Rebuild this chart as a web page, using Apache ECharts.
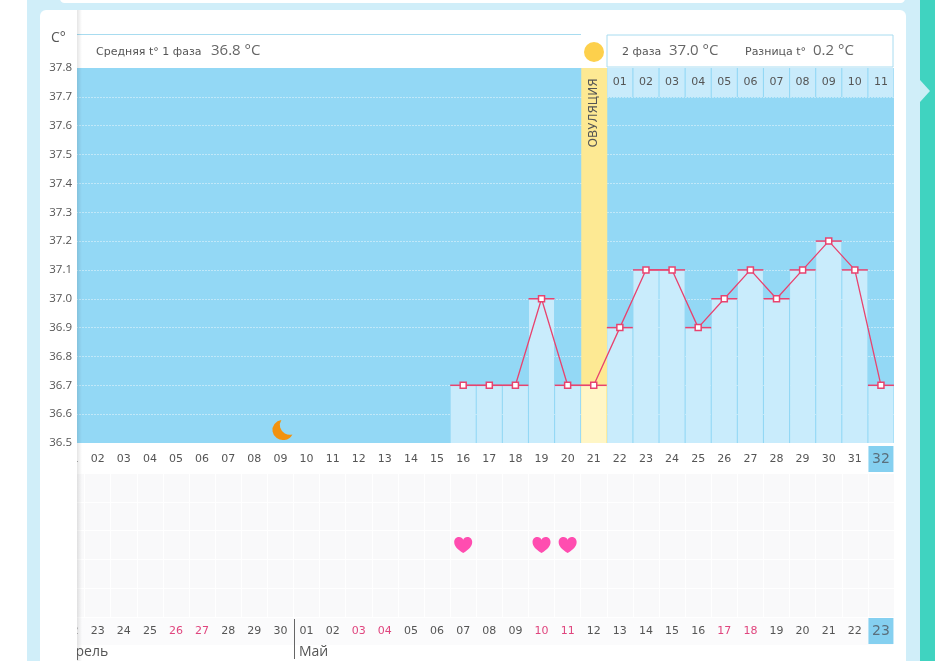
<!DOCTYPE html>
<html><head><meta charset="utf-8">
<style>html,body{margin:0;padding:0;background:#fff}#c{width:935px;height:661px}</style>
<script src="https://cdn.jsdelivr.net/npm/echarts@6/dist/echarts.min.js"></script>
</head><body><div id="c"></div>
<script>
const cycleDays = ['01','02','03','04','05','06','07','08','09','10','11','12','13','14','15','16','17','18','19','20','21','22','23','24','25','26','27','28','29','30','31','32'];
const dates = ['22','23','24','25','26','27','28','29','30','01','02','03','04','05','06','07','08','09','10','11','12','13','14','15','16','17','18','19','20','21','22','23'];
const weekendIdx = [4,5,11,12,18,19,25,26];
const temps = [null,null,null,null,null,null,null,null,null,null,null,null,null,null,null,36.7,36.7,36.7,37.0,36.7,36.7,36.9,37.1,37.1,36.9,37.0,37.1,37.0,37.1,37.2,37.1,36.7];
const ovulationDay = '21';
const moonPoints = [[8,36.545]];
const heartPoints = [[15,2.5],[18,2.5],[19,2.5]];
const phaseTwoDays = {'22':'01','23':'02','24':'03','25':'04','26':'05','27':'06','28':'07','29':'08','30':'09','31':'10','32':'11'};

const MOON='path://M9 0 A10.5 10.5 0 1 0 20 15 A10 10 0 0 1 9 0Z';
const HEART='path://M12 21 C4 16 0 12 0 6.5 C0 2.5 3 0 6.5 0 C9 0 11 1.5 12 3.5 C13 1.5 15 0 17.5 0 C21 0 24 2.5 24 6.5 C24 12 20 16 12 21Z';
const tickFont='"DejaVu Sans"', headFont='"Open Sans"';
const L=58.5,W=835.5;

function rect(x,y,w,h,fill,z,extra){return Object.assign({type:'rect',silent:true,z:z,shape:{x,y,width:w,height:h},style:{fill}},extra||{});}
function txt(x,y,t,size,color,z,extra){const f=(extra&&extra.font)||headFont;return {type:'text',silent:true,z:z,x,y,rotation:(extra&&extra.rotation)||0,style:{text:t,font:size+'px '+f,fill:color,verticalAlign:'middle',align:(extra&&extra.align)||'left'}};}
const hiRich={hi:{fontFamily:tickFont,fontSize:14,color:'#5a6f7c',backgroundColor:'#85d0f0',width:25,height:26,lineHeight:26,align:'center',verticalAlign:'middle'}};

const chart=echarts.init(document.getElementById('c'),null,{renderer:'canvas'});
chart.setOption({
 animation:false,
 backgroundColor:'#fff',
 grid:[
  {left:L,width:W,top:68,height:375,show:true,backgroundColor:'#93d8f5',borderWidth:0},
  {left:L,width:W,top:473,height:144,show:true,backgroundColor:'#f9f9fa',borderWidth:0},
  {left:L,width:W,top:68,height:29,show:false}
 ],
 xAxis:[
  {gridIndex:0,type:'category',data:cycleDays,axisLine:{show:false},axisTick:{show:false},splitLine:{show:false},
   axisLabel:{interval:0,margin:16,verticalAlign:'middle',fontFamily:tickFont,fontSize:11,color:'#555',
    formatter:(v,i)=>i===cycleDays.length-1?'{hi|'+v+'}':v,rich:hiRich}},
  {gridIndex:1,type:'category',data:dates,axisLine:{show:false},axisTick:{show:false},
   splitLine:{show:true,interval:0,lineStyle:{color:'#ffffff',width:1}},
   axisLabel:{interval:0,margin:14,verticalAlign:'middle',fontFamily:tickFont,fontSize:11,
    color:(v,i)=>weekendIdx.includes(i)?'#e0457e':'#555',
    formatter:(v,i)=>i===dates.length-1?'{hi|'+v+'}':v,rich:hiRich}},
  {gridIndex:2,type:'category',data:cycleDays,show:false}
 ],
 yAxis:[
  {gridIndex:0,type:'value',min:36.5,max:37.8,interval:0.1,axisLine:{show:false},axisTick:{show:false},axisLabel:{show:false},
   splitLine:{show:true,showMaxLine:false,lineStyle:{color:'rgba(255,255,255,0.85)',type:[1,2],width:1}}},
  {gridIndex:1,type:'value',min:0,max:5,interval:1,axisLine:{show:false},axisTick:{show:false},axisLabel:{show:false},
   splitLine:{show:true,lineStyle:{color:'#ffffff',width:1}}},
  {gridIndex:2,type:'value',min:0,max:1,show:false},
  {gridIndex:0,type:'value',position:'left',min:36.5,max:37.8,interval:0.1,z:200,axisLine:{show:false},axisTick:{show:false},splitLine:{show:false},
   axisLabel:{margin:-13.5,align:'right',verticalAlign:'middle',alignMinLabel:'right',alignMaxLabel:'right',fontFamily:headFont,fontSize:11.5,color:'#555',formatter:v=>v.toFixed(1)}}
 ],
 series:[
  {name:'band',type:'bar',xAxisIndex:0,yAxisIndex:0,barWidth:26,barGap:'-100%',z:2,silent:true,
   data:cycleDays.map(d=>d===ovulationDay?37.8:null),itemStyle:{color:'#fde993'}},
  {name:'temp-bars',type:'bar',xAxisIndex:0,yAxisIndex:0,barWidth:25,barGap:'-100%',z:3,silent:true,
   data:temps,itemStyle:{color:p=>cycleDays[p.dataIndex]===ovulationDay?'#fff6c6':'#c9ecfc'}},
  {name:'caps',type:'scatter',xAxisIndex:0,yAxisIndex:0,z:4,silent:true,symbol:'rect',symbolSize:[26,1.5],
   data:temps,itemStyle:{color:'#e8436f',opacity:1}},
  {name:'temp',type:'line',xAxisIndex:0,yAxisIndex:0,z:5,silent:true,data:temps,connectNulls:false,
   symbol:'rect',symbolSize:6,showSymbol:true,lineStyle:{color:'#e8436f',width:1.3},
   itemStyle:{color:'#fff',borderColor:'#e8436f',borderWidth:1.5}},
  {name:'moon',type:'scatter',xAxisIndex:0,yAxisIndex:0,z:5,silent:true,symbol:MOON,symbolSize:[20,20],
   symbolOffset:[2,0],data:moonPoints,itemStyle:{color:'#f2920f',opacity:1}},
  {name:'hearts',type:'scatter',xAxisIndex:1,yAxisIndex:1,z:5,silent:true,symbol:HEART,symbolSize:[18,16],
   data:heartPoints,itemStyle:{color:'#ff4db0',opacity:1}},
  {name:'phase2',type:'bar',xAxisIndex:2,yAxisIndex:2,barWidth:25,z:6,silent:true,
   data:cycleDays.map(d=>phaseTwoDays[d]?1:null),itemStyle:{color:'#c9ebfb'},
   label:{show:true,position:'inside',fontFamily:tickFont,fontSize:11,color:'#555',
    formatter:p=>phaseTwoDays[cycleDays[p.dataIndex]]}}
 ],
 graphic:{elements:[
  rect(27,0,893,661,'#d0eef9',-10),
  rect(40,10,866,670,'#ffffff',-9,{shape:{x:40,y:10,width:866,height:670,r:6}}),
  rect(60,-6,845,9,'#ffffff',-9,{shape:{x:60,y:-6,width:845,height:9,r:5}}),
  rect(920,0,15,661,'#40d3c0',-10),
  {type:'polygon',silent:true,z:-9,shape:{points:[[920,80],[930,91],[920,102]]},style:{fill:'#c9eef5'}},
  rect(77,617,816,28,'#fbfbfc',-8),
  // left panel over the clipped first column
  rect(40,36,37,625,'#ffffff',100),
  rect(58,10,19,26,'#ffffff',100),
  {type:'rect',silent:true,z:100,shape:{x:77,y:10,width:5,height:651},
   style:{fill:new echarts.graphic.LinearGradient(0,0,1,0,[{offset:0,color:'rgba(0,0,0,0.10)'},{offset:1,color:'rgba(0,0,0,0)'}])}},
  txt(51,38,'C°',14,'#555',101),
  // headers
  rect(77,34,504,1,'#a8dcf0',50),
  rect(607,35,286,32,'#ffffff',50,{style:{fill:'#fff',stroke:'#a8dcf0',lineWidth:1}}),
  {type:'circle',silent:true,z:51,shape:{cx:594,cy:52,r:10},style:{fill:'#fdd04c'}},
  txt(96,52,'Средняя t° 1 фаза',11,'#555',51,{font:tickFont}),
  txt(211,51,'36.8 °C',15,'#666',51),
  txt(622,52,'2 фаза',11,'#555',51,{font:tickFont}),
  txt(669,51,'37.0 °C',15,'#666',51),
  txt(745,52,'Разница t°',11,'#555',51,{font:tickFont}),
  txt(813,51,'0.2 °C',15,'#666',51),
  txt(594,113,'ОВУЛЯЦИЯ',12,'#555',51,{rotation:Math.PI/2,align:'center',font:tickFont}),
  // month row
  txt(58,652,'Апрель',14,'#555',51),
  txt(299,652,'Май',14,'#555',51),
  rect(294,619,1,40,'#666666',51)
 ]}
});
</script></body></html>
